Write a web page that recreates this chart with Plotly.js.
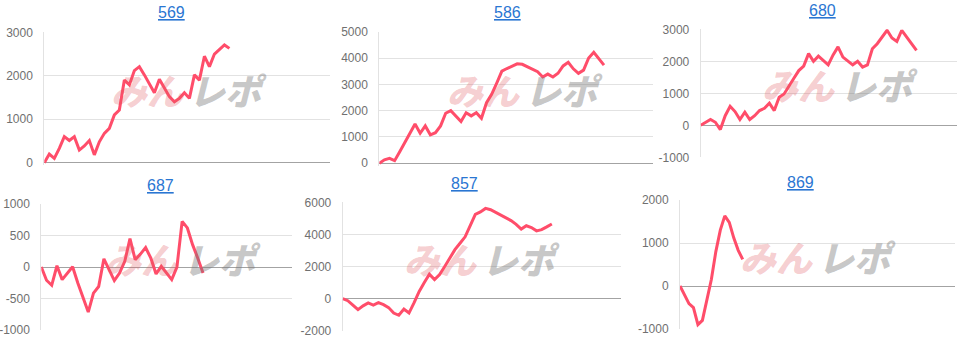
<!DOCTYPE html>
<html><head><meta charset="utf-8">
<script src="https://cdn.plot.ly/plotly-3.0.1.min.js"></script>
<style>html,body{margin:0;padding:0;background:#fff;overflow:hidden}#chart{width:966px;height:342px}</style>
</head><body><div id="chart"></div>
<script>
// ---- data ----
const titles = ['569', '586', '680', '687', '857', '869'];
const data569 = [0,200,100,330,600,510,600,290,385,510,180,480,675,790,1100,1210,1900,1790,2120,2210,2020,1830,1610,1920,1710,1520,1400,1480,1610,1480,2020,1900,2450,2210,2500,2610,2710,2630];
const data586 = [0,130,190,100,440,780,1120,1490,1140,1420,1080,1160,1420,1900,2000,1800,1590,1920,1800,1920,1710,2300,2620,3050,3500,3600,3680,3780,3760,3660,3560,3480,3280,3390,3280,3420,3700,3840,3590,3420,3540,4000,4220,3990,3730];
const data680 = [0,90,180,95,-135,300,595,430,180,410,180,300,460,530,690,460,880,980,1240,1470,1710,1850,2240,2000,2160,2030,1890,2200,2450,2130,2000,1890,2000,1820,1890,2390,2550,2760,2970,2730,2620,2970,2760,2550,2340];
const data687 = [0,-210,-290,20,-200,-95,5,-255,-490,-715,-415,-310,130,-45,-215,-95,90,450,115,205,310,140,-110,10,-95,-200,0,725,620,355,140,-95];
const data857 = [0,-130,-400,-690,-450,-270,-400,-250,-380,-560,-900,-1040,-650,-900,-250,450,1000,1520,1190,1500,2000,2550,3050,3450,3850,4550,5250,5400,5620,5540,5370,5200,5030,4860,4630,4330,4540,4430,4220,4300,4470,4650];
const data869 = [0,-190,-410,-500,-900,-800,-360,150,800,1300,1630,1480,1120,830,620];
const ticks569 = [0,1000,2000,3000];
const ticks586 = [0,1000,2000,3000,4000,5000];
const ticks680 = [-1000,0,1000,2000,3000];
const ticks687 = [-1000,-500,0,500,1000];
const ticks857 = [-2000,0,2000,4000,6000];
const ticks869 = [-1000,0,1000,2000];

const series = [data569, data586, data680, data687, data857, data869];
const tickSets = [ticks569, ticks586, ticks680, ticks687, ticks857, ticks869];

// ---- layout (pixel boxes) ----
const W = 966, H = 342;
// [left, right, top, bottom] of each plot area in px
const boxes = [
  [44.3, 330, 32.3, 165.3],
  [379.3, 653, 31.7, 165.9],
  [700.7, 956.7, 29.3, 157.3],
  [41.3, 291.7, 204, 330],
  [342.7, 620.7, 202.3, 330.7],
  [680, 955, 200, 329]
];
const yPad = [60, 100, 0, 0, 0, 0];
const xMax = [57.1, 53.6, 52.2, 48.0, 54.5, 61.4];
const titlePos = [[171.7, 12.5], [507.7, 12.3], [822.7, 10.5], [160, 185], [464.3, 183], [800.7, 182.5]];
const markPos = [[188, 89], [524, 89], [839, 84], [182, 258], [481, 258], [817, 256]];

const traces = [];
const layout = {
  width: W, height: H,
  margin: {l: 0, r: 0, t: 0, b: 0, pad: 0},
  paper_bgcolor: '#ffffff', plot_bgcolor: 'rgba(0,0,0,0)',
  showlegend: false,
  annotations: []
};

for (let k = 0; k < 6; k++) {
  const s = k === 0 ? '' : String(k + 1);
  const vals = series[k];
  const tv = tickSets[k];
  traces.push({
    type: 'scatter', mode: 'lines',
    x: vals.map((_, i) => i), y: vals,
    xaxis: 'x' + s, yaxis: 'y' + s,
    line: {color: 'rgb(255,77,106)', width: 3, shape: 'linear'},
    hoverinfo: 'skip'
  });
  const b = boxes[k];
  layout['xaxis' + s] = {
    domain: [b[0] / W, b[1] / W], range: [0, xMax[k]],
    showgrid: false, zeroline: false, showticklabels: false, showline: false,
    ticks: '', anchor: 'y' + s, fixedrange: true
  };
  layout['yaxis' + s] = {
    domain: [1 - b[3] / H, 1 - b[2] / H],
    range: [tv[0] - yPad[k], tv[tv.length - 1]],
    tickmode: 'array', tickvals: tv, ticktext: tv.map(v => String(v)),
    showgrid: true, gridcolor: '#e2e2e2', gridwidth: 1,
    zeroline: true, zerolinecolor: '#a3a3a3', zerolinewidth: 1,
    showline: true, linecolor: '#e2e2e2', linewidth: 1,
    layer: 'below traces',
    ticks: 'outside', ticklen: 8, tickcolor: 'rgba(0,0,0,0)',
    tickfont: {family: 'Liberation Sans, Arial, sans-serif', size: 12, color: '#707070'},
    anchor: 'x' + s, fixedrange: true
  };
  // title (link style)
  layout.annotations.push({
    xref: 'paper', yref: 'paper',
    x: titlePos[k][0] / W, y: 1 - titlePos[k][1] / H,
    xanchor: 'center', yanchor: 'middle', showarrow: false,
    text: '<u>' + titles[k] + '</u>',
    font: {family: 'Liberation Sans, Arial, sans-serif', size: 16, color: '#2a76d2'}
  });
  // watermark
  const m = markPos[k];
  layout.annotations.push({
    xref: 'paper', yref: 'paper',
    x: (m[0] - 40) / W, y: 1 - m[1] / H,
    xanchor: 'center', yanchor: 'middle', showarrow: false,
    text: 'みん',
    font: {family: 'Noto Sans CJK JP, sans-serif', size: 36, weight: 900, style: 'italic', color: 'rgba(225,90,95,0.30)'}
  });
  layout.annotations.push({
    xref: 'paper', yref: 'paper',
    x: (m[0] + 40) / W, y: 1 - m[1] / H,
    xanchor: 'center', yanchor: 'middle', showarrow: false,
    text: 'レポ',
    font: {family: 'Noto Sans CJK JP, sans-serif', size: 36, weight: 900, style: 'italic', color: 'rgba(120,120,120,0.42)'}
  });
}

Plotly.newPlot('chart', traces, layout, {staticPlot: true, displayModeBar: false});
</script>
</body></html>
